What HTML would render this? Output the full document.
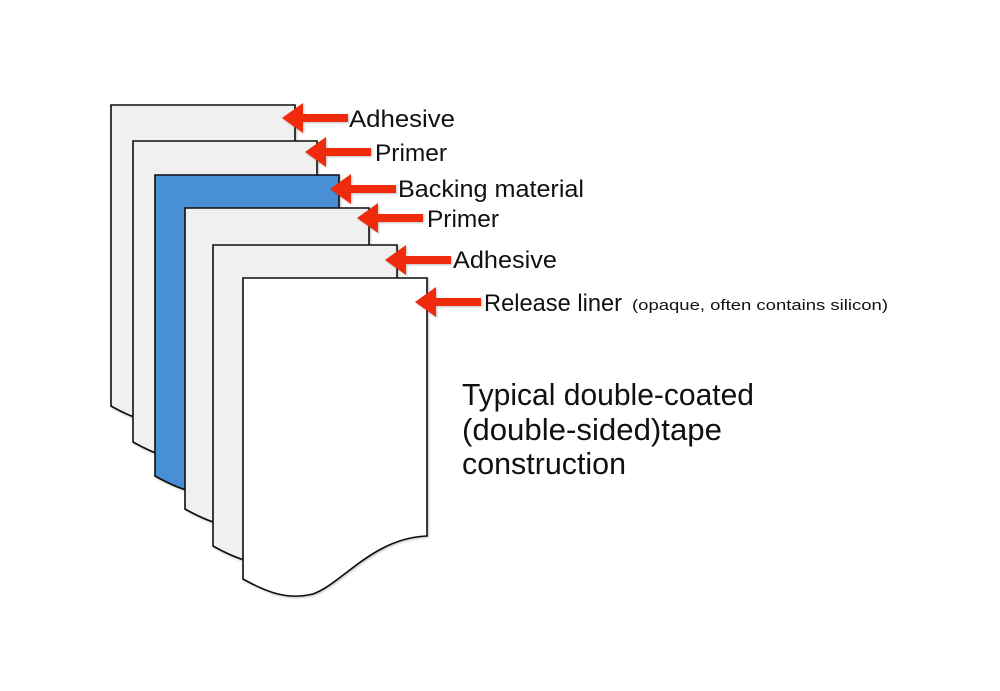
<!DOCTYPE html>
<html><head><meta charset="utf-8"><style>
html,body{margin:0;padding:0;background:#fff;}
svg{display:block;}
text{font-family:"Liberation Sans",sans-serif;fill:#111;}
</style></head><body>
<svg width="1000" height="691" viewBox="0 0 1000 691" xmlns="http://www.w3.org/2000/svg">
<defs>
<path id="sh" d="M0,0 H184 V258 C130,260 100,305 70,316 C45,322 25,315 0,301 Z"/>
<filter id="ds" x="-10%" y="-10%" width="130%" height="130%"><feDropShadow dx="1" dy="1" stdDeviation="1" flood-opacity="0.25"/></filter>
<path id="ar" d="M0,0 L21,-15 L21,-4 L66,-4 L66,4 L21,4 L21,15 Z"/>
</defs>
<g stroke="#111" stroke-width="1.6" filter="url(#ds)">
<use href="#sh" x="111" y="105" fill="#f0f0f0"/>
<use href="#sh" x="133" y="141" fill="#f0f0f0"/>
<use href="#sh" x="155" y="175" fill="#4a8fd6"/>
<use href="#sh" x="185" y="208" fill="#f0f0f0"/>
<use href="#sh" x="213" y="245" fill="#f0f0f0"/>
<use href="#sh" x="243" y="278" fill="#ffffff"/>
</g>
<g fill="#f02a10" filter="url(#ds)">
<use href="#ar" x="282" y="118"/>
<use href="#ar" x="305" y="152" transform="translate(0,0)"/>
<use href="#ar" x="330" y="189"/>
<use href="#ar" x="357" y="218"/>
<use href="#ar" x="385" y="260"/>
<use href="#ar" x="415" y="302"/>
</g>
<text x="349" y="127" font-size="24" textLength="106" lengthAdjust="spacingAndGlyphs">Adhesive</text>
<text x="375" y="161" font-size="24" textLength="72" lengthAdjust="spacingAndGlyphs">Primer</text>
<text x="398" y="197" font-size="24" textLength="186" lengthAdjust="spacingAndGlyphs">Backing material</text>
<text x="427" y="227" font-size="24" textLength="72" lengthAdjust="spacingAndGlyphs">Primer</text>
<text x="453" y="268" font-size="24" textLength="104" lengthAdjust="spacingAndGlyphs">Adhesive</text>
<text x="484" y="311" font-size="24" textLength="138" lengthAdjust="spacingAndGlyphs">Release liner</text>
<text x="632" y="310" font-size="15" textLength="256" lengthAdjust="spacingAndGlyphs">(opaque, often contains silicon)</text>
<text x="462" y="405" font-size="31" textLength="292" lengthAdjust="spacingAndGlyphs">Typical double-coated</text>
<text x="462" y="440" font-size="31" textLength="260" lengthAdjust="spacingAndGlyphs">(double-sided)tape</text>
<text x="462" y="474" font-size="31" textLength="164" lengthAdjust="spacingAndGlyphs">construction</text>
</svg>
</body></html>
